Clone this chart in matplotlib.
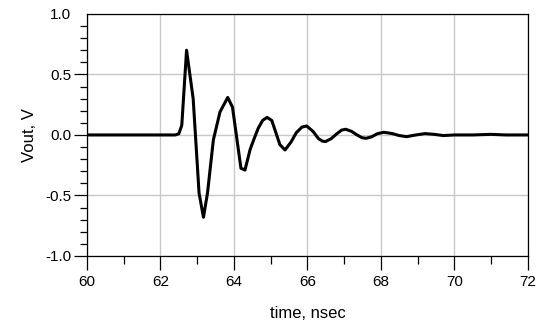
import matplotlib.pyplot as plt
from matplotlib.ticker import MultipleLocator

# waveform
t = [60.0, 62.40, 62.50, 62.58, 62.71, 62.89, 63.05, 63.17, 63.28, 63.44,
     63.62, 63.83, 63.96, 64.19, 64.30, 64.44, 64.55, 64.66, 64.78, 64.90,
     65.03, 65.25, 65.39, 65.55, 65.70, 65.85, 65.98, 66.15, 66.30, 66.40,
     66.49, 66.65, 66.80, 66.93, 67.04, 67.20, 67.35, 67.48, 67.59, 67.75,
     67.90, 68.08, 68.30, 68.50, 68.70, 68.95, 69.20, 69.45, 69.70, 70.00,
     70.50, 71.00, 71.40, 72.0]
vout = [0, 0, 0.01, 0.08, 0.70, 0.30, -0.48, -0.68, -0.48, -0.04,
        0.19, 0.31, 0.23, -0.275, -0.29, -0.12, -0.03, 0.055, 0.12, 0.145,
        0.12, -0.08, -0.124, -0.06, 0.02, 0.065, 0.074, 0.03, -0.03, -0.05,
        -0.055, -0.03, 0.01, 0.04, 0.047, 0.03, 0.0, -0.022, -0.028, -0.015,
        0.01, 0.022, 0.012, -0.005, -0.014, 0.0, 0.011, 0.005, -0.005, 0.0,
        0.0, 0.005, 0.0, 0.0]

plt.rcParams['font.family'] = ['Liberation Sans', 'DejaVu Sans']

fig = plt.figure(figsize=(5.37, 3.32), dpi=100)
ax = fig.add_axes([0.162, 0.229, 0.821, 0.729])

ax.plot(t, vout, color='black', lw=2.2, solid_joinstyle='round', zorder=3)

ax.set_xlim(60, 72)
ax.set_ylim(-1.0, 1.0)
ax.xaxis.set_major_locator(MultipleLocator(2))
ax.xaxis.set_minor_locator(MultipleLocator(1))
ax.yaxis.set_major_locator(MultipleLocator(0.5))
ax.yaxis.set_minor_locator(MultipleLocator(0.1))
ax.set_yticks([-1.0, -0.5, 0.0, 0.5, 1.0])
ax.set_yticklabels(['-1.0', '-0.5', '0.0', '0.5', '1.0'])

ax.grid(True, which='major', color='#c8c8c8', lw=1.0, zorder=0)
ax.tick_params(axis='x', which='major', length=10, width=0.9, pad=4, labelsize=11)
ax.tick_params(axis='x', which='minor', length=5.5, width=0.9)
ax.tick_params(axis='y', which='major', length=9.5, width=0.9, pad=2, labelsize=11)
ax.tick_params(axis='y', which='minor', length=5, width=0.9)
for s in ax.spines.values():
    s.set_linewidth(0.9)

# the reference has no tick marks at the top-left and bottom-right corners
fig.canvas.draw()
ax.yaxis.get_major_ticks()[-1].tick1line.set_visible(False)
ax.xaxis.get_major_ticks()[-1].tick1line.set_visible(False)

ax.set_xlabel('time, nsec', fontsize=12, labelpad=12)
ax.set_ylabel('Vout, V', fontsize=12, labelpad=6)

fig.savefig('out.png', dpi=100)
